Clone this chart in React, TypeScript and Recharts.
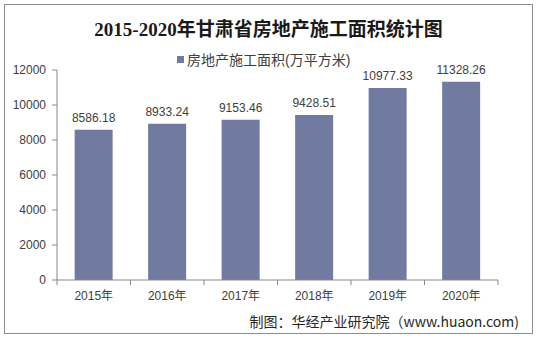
import { BarChart, Bar, XAxis, YAxis, LabelList } from 'recharts'

const years = ['2015年', '2016年', '2017年', '2018年', '2019年', '2020年']
const areas = [8586.18, 8933.24, 9153.46, 9428.51, 10977.33, 11328.26]
const yTicks = [0, 2000, 4000, 6000, 8000, 10000, 12000]

const seriesName = '房地产施工面积(万平方米)'
const barColor = '#717ba1'
const axisColor = '#898989'
const textColor = '#404040'
const font = '"Liberation Sans", Arial, "Noto Sans CJK SC", sans-serif'

const chartData = years.map((year, i) => ({ year, value: areas[i] }))

const W = 537
const H = 338
const LEFT = 57
const RIGHT = 498
const step = (RIGHT - LEFT) / years.length

// x 轴刻度线画在分类之间
function YearTick(props: any) {
  const { x, y, payload, index } = props
  return (
    <g>
      <line x1={x - step / 2} y1={y - 8} x2={x - step / 2} y2={y - 3} stroke={axisColor} />
      {index === years.length - 1 && (
        <line x1={x + step / 2} y1={y - 8} x2={x + step / 2} y2={y - 3} stroke={axisColor} />
      )}
      <text x={x} y={y + 12} textAnchor="middle" fontSize={12} fill={textColor} fontFamily={font}>
        {payload.value}
      </text>
    </g>
  )
}

export default function App() {
  return (
    <div
      style={{
        position: 'absolute',
        left: 0,
        top: 0,
        width: W,
        height: H,
        background: '#fff',
        fontFamily: font,
      }}
    >
      <div
        style={{
          position: 'absolute',
          left: 4,
          top: 4,
          width: W - 10,
          height: H - 10,
          border: '1px solid #8c8c8c',
        }}
      />
      <div
        style={{
          position: 'absolute',
          top: 14,
          width: '100%',
          textAlign: 'center',
          fontSize: 19,
          fontWeight: 'bold',
          fontFamily: '"Liberation Serif", "Times New Roman", "Noto Sans CJK SC", serif',
          color: '#1a1a1a',
        }}
      >
        2015-2020年甘肃省房地产施工面积统计图
      </div>
      <div
        style={{
          position: 'absolute',
          top: 49,
          left: 177,
          fontSize: 14,
          color: textColor,
          display: 'flex',
          alignItems: 'center',
        }}
      >
        <span style={{ width: 7, height: 7, background: barColor, display: 'inline-block', marginRight: 3 }} />
        {seriesName}
      </div>
      <BarChart
        width={W}
        height={H}
        data={chartData}
        margin={{ top: 70, right: W - RIGHT, bottom: 28, left: 0 }}
        barCategoryGap="24%"
      >
        <XAxis
          dataKey="year"
          height={30}
          tickLine={false}
          axisLine={{ stroke: axisColor }}
          tick={<YearTick />}
          interval={0}
        />
        <YAxis
          width={LEFT}
          domain={[0, 12000]}
          ticks={yTicks}
          tickSize={5}
          tickMargin={6}
          axisLine={{ stroke: axisColor }}
          tickLine={{ stroke: axisColor }}
          tick={{ fontSize: 12, fill: textColor, fontFamily: font }}
        />
        <Bar dataKey="value" fill={barColor} isAnimationActive={false}>
          <LabelList
            dataKey="value"
            position="top"
            offset={8}
            style={{ fontSize: 12, fill: textColor, fontFamily: font }}
          />
        </Bar>
      </BarChart>
      <div
        style={{
          position: 'absolute',
          top: 311,
          right: 18,
          fontSize: 14,
          color: '#262626',
          fontFamily: '"Noto Sans CJK SC", sans-serif',
        }}
      >
        制图：华经产业研究院（www.huaon.com)
      </div>
    </div>
  )
}
